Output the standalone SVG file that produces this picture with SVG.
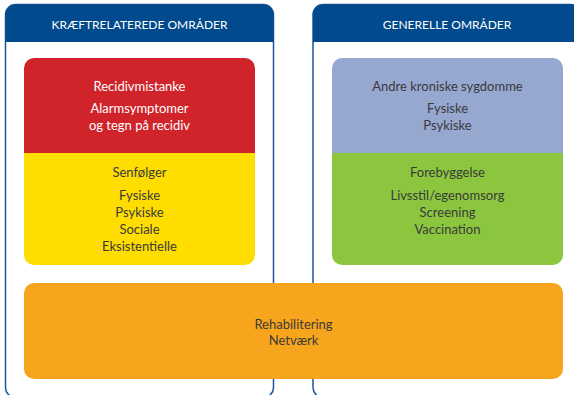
<svg xmlns="http://www.w3.org/2000/svg" width="574" height="395" viewBox="0 0 574 395">
<style>
.panel{fill:#fff;stroke:#1d5598;stroke-width:1.5}
.hdr{fill:#004a8d}
.ht{font-family:Lato,"Noto Sans",sans-serif;font-size:12px;fill:#fff;text-anchor:middle}
.t{font-family:Lato,"Noto Sans",sans-serif;font-size:13px;fill:#3a3a3a;text-anchor:middle}
.w{fill:#fff}
</style>
<rect width="574" height="395" fill="#fff"/>
<g id="panel-left">
<rect class="panel" x="5.5" y="4.5" width="268" height="393" rx="10"/>
<path class="hdr" d="M5.5 42 V14.5 A10 10 0 0 1 15.5 4.5 H263.5 A10 10 0 0 1 273.5 14.5 V42 Z"/>
<text class="ht" x="139.5" y="28.5">KRÆFTRELATEREDE OMRÅDER</text>
</g>
<g id="panel-right">
<rect class="panel" x="313" y="4.5" width="268" height="393" rx="10"/>
<path class="hdr" d="M313 42 V14.5 A10 10 0 0 1 323 4.5 H571 A10 10 0 0 1 581 14.5 V42 Z"/>
<text class="ht" x="447" y="28.5">GENERELLE OMRÅDER</text>
</g>
<g id="recidiv">
<path d="M24 153 V68 A10 10 0 0 1 34 58 H245 A10 10 0 0 1 255 68 V153 Z" fill="#d1232a"/>
<text class="t w" x="139.5" y="90.5">Recidivmistanke</text>
<text class="t w" x="139.5" y="113">Alarmsymptomer</text>
<text class="t w" x="139.5" y="130">og tegn på recidiv</text>
</g>
<g id="senfoelger">
<path d="M24 153 H255 V255 A10 10 0 0 1 245 265 H34 A10 10 0 0 1 24 255 Z" fill="#ffdd00"/>
<text class="t" x="139.5" y="177">Senfølger</text>
<text class="t" x="139.5" y="200">Fysiske</text>
<text class="t" x="139.5" y="217">Psykiske</text>
<text class="t" x="139.5" y="234">Sociale</text>
<text class="t" x="139.5" y="251">Eksistentielle</text>
</g>
<g id="kroniske">
<path d="M332 153 V68 A10 10 0 0 1 342 58 H553 A10 10 0 0 1 563 68 V153 Z" fill="#97a8d0"/>
<text class="t" x="447.5" y="90.5">Andre kroniske sygdomme</text>
<text class="t" x="447.5" y="113">Fysiske</text>
<text class="t" x="447.5" y="130">Psykiske</text>
</g>
<g id="forebyggelse">
<path d="M332 153 H563 V255 A10 10 0 0 1 553 265 H342 A10 10 0 0 1 332 255 Z" fill="#8cc63f"/>
<text class="t" x="447.5" y="177">Forebyggelse</text>
<text class="t" x="447.5" y="200">Livsstil/egenomsorg</text>
<text class="t" x="447.5" y="217">Screening</text>
<text class="t" x="447.5" y="234">Vaccination</text>
</g>
<g id="rehabilitering">
<rect x="24" y="283" width="539" height="96" rx="10" fill="#f6a51d"/>
<text class="t" x="293.5" y="328.5">Rehabilitering</text>
<text class="t" x="293.5" y="345">Netværk</text>
</g>
<g id="connectors"></g>
</svg>
